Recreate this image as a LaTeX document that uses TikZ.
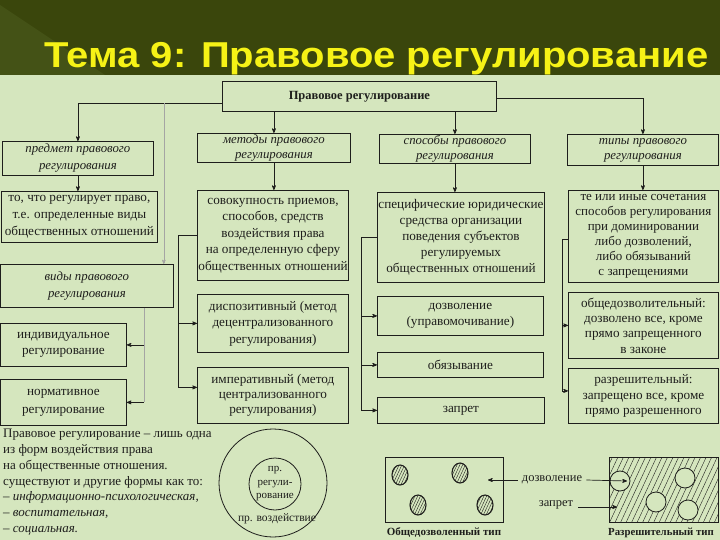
\documentclass[tikz,border=0pt]{standalone}
\usepackage{fontspec}
\setmainfont{Liberation Serif}
\newfontfamily\titlefont{Liberation Sans}
\usepackage{graphicx}
\usetikzlibrary{arrows,positioning,patterns.meta}

\definecolor{band}{RGB}{58,70,12}
\definecolor{bandlight}{RGB}{68,82,22}
\definecolor{paper}{RGB}{213,230,190}
\definecolor{ink}{RGB}{30,30,28}
\definecolor{titleyellow}{RGB}{246,242,22}

\begin{document}
\begin{tikzpicture}[
        x=1pt, y=-1pt,
        box/.style={draw=ink, line width=0.8pt, anchor=north west, align=center, inner sep=1pt, text=ink, font=\fontsize{13.2}{16.5}\selectfont},
        head/.style={box, font=\itshape\fontsize{12.8}{15}\selectfont},
        link/.style={draw=ink, line width=0.7pt, ->, >=stealth'},
        trunk/.style={draw=ink, line width=0.7pt},
        faint/.style={draw=ink!40, line width=0.6pt},
        hatch/.style={pattern={Lines[angle=65, distance=#1, line width=0.4pt]}, pattern color=ink},
        hatch/.default=4pt
    ]
    \useasboundingbox (0,0) rectangle (720,540);
    \fill[paper] (0,0) rectangle (720,540);
    \fill[band] (0,0) rectangle (720,75);
    \fill[bandlight] (0,5) -- (105,75) -- (0,75) -- cycle;
    \node[anchor=base west, inner sep=0, text=titleyellow, font=\titlefont\bfseries\fontsize{36}{40}\selectfont] (title) at (44,68)
        {\resizebox{664pt}{\height}{Тема 9: Правовое регулирование}};

    % main box and the four headings
    \node[box, font=\bfseries\fontsize{12.5}{14}\selectfont, minimum width=274, minimum height=30] (reg) at (222,81) {Правовое регулирование};
    \node[head, font=\itshape\fontsize{12.8}{17}\selectfont, minimum width=151, minimum height=34] (subj) at (2,141) {предмет правового\\регулирования};
    \node[head, minimum width=153, minimum height=29] (methods) at (197,133) {методы правового\\регулирования};
    \node[head, minimum width=151, minimum height=29] (ways) at (379,134) {способы правового\\регулирования};
    \node[head, minimum width=151, minimum height=31] (types) at (567,134) {типы правового\\регулирования};

    % first column
    \node[box, font=\fontsize{13.2}{17}\selectfont, minimum width=156, minimum height=51] (subjdef) at (1,191) {то, что регулирует право,\\т.е. определенные виды\\общественных отношений};
    \node[head, font=\itshape\fontsize{12.8}{17}\selectfont, minimum width=173, minimum height=43] (kinds) at (0,264) {виды правового\\регулирования};
    \node[box, minimum width=126, minimum height=43] (indiv) at (0,323) {индивидуальное\\регулирование};
    \node[box, font=\fontsize{13.2}{18}\selectfont, minimum width=126, minimum height=46] (norm) at (0,379) {нормативное\\регулирование};

    % second column
    \node[box, minimum width=151, minimum height=90] (sovok) at (197,190) {совокупность приемов,\\способов, средств\\воздействия права\\на определенную сферу\\общественных отношений};
    \node[box, minimum width=151, minimum height=58] (disp) at (197,294) {диспозитивный (метод\\децентрализованного\\регулирования)};
    \node[box, font=\fontsize{13.2}{15}\selectfont, minimum width=151, minimum height=56] (imper) at (197,367) {императивный (метод\\централизованного\\регулирования)};

    % third column
    \node[box, font=\fontsize{13.2}{16}\selectfont, minimum width=167, minimum height=90] (spec) at (377,192) {специфические юридические\\средства организации\\поведения субъектов\\регулируемых\\общественных отношений};
    \node[box, font=\fontsize{13.2}{16}\selectfont, minimum width=166, minimum height=39] (allow) at (377,296) {дозволение\\(управомочивание)};
    \node[box, minimum width=166, minimum height=25] (oblige) at (377,352) {обязывание};
    \node[box, minimum width=167, minimum height=26] (forbid) at (377,397) {запрет};

    % fourth column
    \node[box, font=\fontsize{13}{15}\selectfont, minimum width=150, minimum height=92] (combo) at (568,190) {те или иные сочетания\\способов регулирования\\при доминировании\\либо дозволений,\\либо обязываний\\с запрещениями};
    \node[box, font=\fontsize{13.2}{15.3}\selectfont, minimum width=150, minimum height=66] (general) at (568,292) {общедозволительный:\\дозволено все, кроме\\прямо запрещенного\\в законе};
    \node[box, font=\fontsize{13.2}{15.5}\selectfont, minimum width=150, minimum height=55] (permit) at (568,368) {разрешительный:\\запрещено все, кроме\\прямо разрешенного};

    % from the main box
    \draw[link] ([yshift=-7pt]reg.west) -| (subj.north);
    \draw[link] ([yshift=-2pt]reg.east) -| (types.north);
    \draw[link] (reg.south -| methods.north) -- (methods.north);
    \draw[link] (reg.south -| ways.north) -- (ways.north);
    \coordinate (kindsin) at ([xshift=-10pt]kinds.north east);
    \draw[faint, ->, >=stealth'] ([yshift=-7pt]reg.west -| kindsin) -- (kindsin);

    % heading to definition
    \draw[link] (subj.south) -- (subj.south |- subjdef.north);
    \draw[link] (methods.south) -- (methods.south |- sovok.north);
    \draw[link] (ways.south) -- (ways.south |- spec.north);
    \draw[link] (types.south) -- (types.south |- combo.north);

    % kinds of regulation
    \coordinate (ktrunk) at ([xshift=-30pt]kinds.south east);
    \draw[faint] (ktrunk) -- (ktrunk |- norm.east);
    \draw[link] (ktrunk |- indiv.east) -- (indiv.east);
    \draw[link] (ktrunk |- norm.east) -- (norm.east);

    % methods
    \coordinate (mtrunk) at ([xshift=-19pt]sovok.west);
    \coordinate (impin) at ([yshift=8pt]imper.west);
    \draw[trunk] (sovok.west) -- (mtrunk) -- (mtrunk |- impin);
    \draw[link] (mtrunk |- disp.west) -- (disp.west);
    \draw[link] (mtrunk |- impin) -- (impin);

    % ways
    \coordinate (wtrunk) at ([xshift=-16pt]spec.west);
    \draw[trunk] (spec.west) -- (wtrunk) -- (wtrunk |- forbid.west);
    \draw[link] (wtrunk |- allow.west) -- (allow.west);
    \draw[link] (wtrunk |- oblige.west) -- (oblige.west);
    \draw[link] (wtrunk |- forbid.west) -- (forbid.west);

    % types
    \coordinate (ttrunk) at ([xshift=-6pt,yshift=-3pt]combo.west);
    \coordinate (permin) at ([yshift=5pt]permit.west);
    \draw[trunk] ([yshift=-3pt]combo.west) -- (ttrunk) -- (ttrunk |- permin);
    \draw[link] (ttrunk |- general.west) -- (general.west);
    \draw[link] (ttrunk |- permin) -- (permin);

    % note at the bottom
    \node[anchor=north west, align=left, inner sep=0, text=ink, font=\fontsize{13}{15.8}\selectfont] (note) at (3,429)
        {Правовое регулирование – лишь одна\\из форм воздействия права\\на общественные отношения.\\существуют и другие формы как то:\\– \textit{информационно-психологическая,}\\– \textit{воспитательная,}\\– \textit{социальная.}};

    % circles
    \node[circle, draw=ink, line width=0.8pt, minimum size=108pt] (influence) at (273,483) {};
    \node[circle, draw=ink, line width=0.8pt, minimum size=52pt, inner sep=0, align=center, text=ink, font=\fontsize{11}{13.5}\selectfont] (regcirc) at (275,484) {пр.\\регули-\\рование};
    \node[inner sep=0, text=ink, font=\fontsize{11.5}{12}\selectfont] (inflabel) at (277,519) {пр. воздействие};

    % general type
    \draw[ink, line width=0.6pt] (385,457) rectangle (503,522);
    \foreach \cx/\cy in {400/475, 460/473, 418/505, 485/505}
        \draw[ink, line width=1.1pt, hatch=2.5pt] (\cx pt,-\cy pt) ellipse [x radius=8pt, y radius=10pt];
    \node[text=ink, font=\bfseries\fontsize{11}{12}\selectfont] (freetype) at (444,533) {Общедозволенный тип};

    % permissive type
    \fill[hatch=5pt] (609,457) rectangle (718,522);
    \draw[ink, line width=0.6pt] (609,457) rectangle (718,522);
    \foreach \cx/\cy in {620/481, 685/478, 656/502, 688/510}
        \filldraw[fill=paper, draw=ink, line width=0.8pt] (\cx pt,-\cy pt) circle (10pt);
    \node[text=ink, font=\bfseries\fontsize{10.8}{12}\selectfont] (permtype) at (661,533) {Разрешительный тип};

    % labels between the two types
    \node[text=ink, font=\fontsize{12.5}{14}\selectfont, inner sep=1pt] (allowlab) at (552,480) {дозволение};
    \node[text=ink, font=\fontsize{12.5}{14}\selectfont, inner sep=1pt] (forbidlab) at (556,505) {запрет};
    \coordinate (freewhite) at (488,480);
    \coordinate (permwhite) at (627,481);
    \coordinate (permhatch) at (617,507);
    \draw[link] ([xshift=-3pt]allowlab.west) -- (freewhite);
    \draw[link] ([xshift=3pt]allowlab.east) -- (permwhite);
    \draw[link] ([xshift=4pt]forbidlab.east |- permhatch) -- (permhatch);
\end{tikzpicture}
\end{document}
